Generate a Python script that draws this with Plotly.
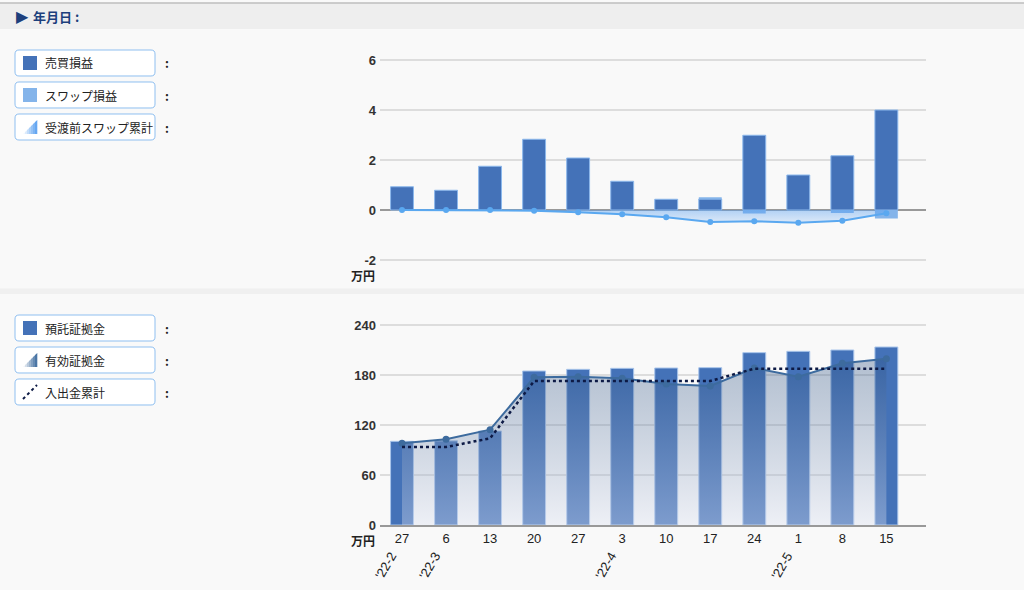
import plotly.graph_objects as go

W, H = 1024, 590

# ---------------- data ----------------
dates = ['2022-02-27', '2022-03-06', '2022-03-13', '2022-03-20', '2022-03-27', '2022-04-03',
         '2022-04-10', '2022-04-17', '2022-04-24', '2022-05-01', '2022-05-08', '2022-05-15']
day_labels = ['27', '6', '13', '20', '27', '3', '10', '17', '24', '1', '8', '15']
month_label_idx = [0, 1, 5, 9]
month_label_text = ["'22-2", "'22-3", "'22-4", "'22-5"]

trade_pl = [0.93, 0.79, 1.75, 2.83, 2.08, 1.15, 0.43, 0.44, 2.99, 1.40, 2.17, 4.00]
swap_pl = [0.0, 0.0, 0.0, 0.0, 0.0, 0.0, 0.0, 0.07, -0.14, 0.0, -0.12, -0.34]
swap_cum = [0.0, 0.0, 0.0, -0.03, -0.09, -0.17, -0.29, -0.48, -0.45, -0.51, -0.43, -0.13]

deposit = [100.4, 101.0, 112.8, 184.8, 186.8, 188.0, 188.4, 188.8, 206.8, 208.4, 210.0, 213.6]
effective = [98.0, 102.8, 114.4, 177.2, 178.0, 176.0, 169.2, 166.8, 188.4, 178.0, 194.0, 199.6]
cash_flow = [93.6, 93.6, 104.0, 172.8, 172.8, 172.8, 172.8, 172.8, 187.6, 187.6, 187.6, 187.6]

top_ticks = [-2, 0, 2, 4, 6]
top_tick_text = ['-2', '0', '2', '4', '6']
bot_ticks = [0, 60, 120, 180, 240]
bot_tick_text = ['0', '60', '120', '180', '240']

legend_top = ['売買損益', 'スワップ損益', '受渡前スワップ累計']
legend_bot = ['預託証拠金', '有効証拠金', '入出金累計']

# ---------------- styles ----------------
C_BAR = '#4472b8'
C_SWAP = '#84b4ea'
C_SWAPLINE = '#5aa8f0'
C_EFF = '#3d6b9e'
C_CASH = '#0d1a45'
JP = 'Noto Sans CJK JP'
NUM = 'Liberation Sans'


def fx(p):
    return p / W


def fy(p):
    return 1 - p / H


# top chart: -2 -> 260px, 6 -> 60px (25 px per unit); range padded so edge grid lines show
TOP_R = [-2.06, 6.06]
YD_TOP = [fy(260 + 0.06 * 25), fy(60 - 0.06 * 25)]
# bottom chart: 0 -> 525px, 240 -> 325px
BOT_R = [0, 241.5]
YD_BOT = [fy(525), fy(525 - 241.5 * 200 / 240)]
XD = [fx(380), fx(926)]
XR = [-0.5, 11.9]

fig = go.Figure()

# top chart
fig.add_trace(go.Bar(x=dates, y=trade_pl, marker=dict(color=C_BAR, line=dict(color='#8cb8ec', width=1)),
                     xaxis='x', yaxis='y', name=legend_top[0]))
fig.add_trace(go.Bar(x=dates, y=swap_pl, marker=dict(color=C_SWAP, line=dict(width=0)),
                     xaxis='x', yaxis='y', name=legend_top[1]))
fig.add_trace(go.Scatter(x=dates, y=swap_cum, mode='lines+markers', xaxis='x', yaxis='y',
                         line=dict(color=C_SWAPLINE, width=2), marker=dict(size=6, color=C_SWAPLINE),
                         fill='tozeroy',
                         fillgradient=dict(type='vertical',
                                           colorscale=[[0, 'rgba(90,160,240,0.18)'],
                                                       [1, 'rgba(90,160,240,0.45)']]),
                         name=legend_top[2]))

# bottom chart
fig.add_trace(go.Bar(x=dates, y=deposit, marker=dict(color=C_BAR, line=dict(color='#a8c4ea', width=1)),
                     xaxis='x2', yaxis='y2', name=legend_bot[0]))
fig.add_trace(go.Scatter(x=dates, y=effective, mode='lines+markers', xaxis='x2', yaxis='y2',
                         line=dict(color=C_EFF, width=2), marker=dict(size=7, color=C_EFF),
                         fill='tozeroy',
                         fillgradient=dict(type='vertical',
                                           colorscale=[[0, 'rgba(218,224,240,0.38)'],
                                                       [1, 'rgba(40,78,128,0.34)']]),
                         name=legend_bot[1]))
fig.add_trace(go.Scatter(x=dates, y=cash_flow, mode='lines', xaxis='x2', yaxis='y2',
                         line=dict(color=C_CASH, width=2.5, dash='dot'), name=legend_bot[2]))

numfont = dict(family=NUM, size=13, color='#333333', weight='bold')

fig.update_layout(
    width=W, height=H, margin=dict(l=0, r=0, t=0, b=0, pad=0, autoexpand=False), autosize=False,
    paper_bgcolor='#f9f9f9', plot_bgcolor='rgba(0,0,0,0)',
    showlegend=False, barmode='relative', bargap=0.48,
    xaxis=dict(domain=XD, anchor='y', type='category', range=XR, showticklabels=False,
               showgrid=False, zeroline=False, showline=False, ticks='', automargin=False),
    yaxis=dict(domain=YD_TOP, anchor='x', range=TOP_R, tickvals=top_ticks, ticktext=top_tick_text,
               gridcolor='#dddddd', gridwidth=1.5, zeroline=True, zerolinecolor='#999999',
               zerolinewidth=2, tickfont=numfont, ticks='', ticklabelstandoff=3, automargin=False),
    yaxis3=dict(overlaying='y', side='right', anchor='x', range=TOP_R, tickvals=top_ticks,
                ticktext=top_tick_text, showgrid=False, zeroline=False, tickfont=numfont, ticks='',
                ticklabelstandoff=3, automargin=False),
    xaxis2=dict(domain=XD, anchor='y2', type='category', range=XR, tickvals=dates, ticktext=day_labels,
                showgrid=False, zeroline=False, showline=True, linecolor='#999999', linewidth=2,
                ticks='', tickfont=dict(family=NUM, size=13, color='#222222'), tickangle=0, automargin=False),
    yaxis2=dict(domain=YD_BOT, anchor='x2', range=BOT_R, tickvals=bot_ticks, ticktext=bot_tick_text,
                gridcolor='#dddddd', gridwidth=1.5, zeroline=False, tickfont=numfont, ticks='',
                ticklabelstandoff=3, automargin=False),
    yaxis4=dict(overlaying='y2', side='right', anchor='x2', range=BOT_R, tickvals=bot_ticks,
                ticktext=bot_tick_text, showgrid=False, zeroline=False, tickfont=numfont, ticks='',
                ticklabelstandoff=3, automargin=False),
)

shapes = []
annots = []

# header band
shapes.append(dict(type='rect', xref='paper', yref='paper', x0=0, x1=1, y0=fy(29), y1=fy(3.5),
                   fillcolor='#eeeeee', line=dict(width=0), layer='below'))
shapes.append(dict(type='line', xref='paper', yref='paper', x0=0, x1=1, y0=fy(3), y1=fy(3),
                   line=dict(color='#bdbdbd', width=1.5), layer='below'))
# separator band
shapes.append(dict(type='rect', xref='paper', yref='paper', x0=0, x1=1, y0=fy(294), y1=fy(288.5),
                   fillcolor='#f0f0f0', line=dict(width=0), layer='below'))

annots.append(dict(xref='paper', yref='paper', x=fx(14), y=fy(16.5), xanchor='left', yanchor='middle',
                   text='▶', showarrow=False, font=dict(family='DejaVu Sans', size=16, color='#1d3f7c')))
annots.append(dict(xref='paper', yref='paper', x=fx(31), y=fy(16.5), xanchor='left', yanchor='middle',
                   text='年月日 :', showarrow=False, font=dict(family=JP, size=13, color='#1d3f7c', weight='bold')))


def rrect(x0, y0, x1, y1, r):
    pts = [
        ('M', x0 + r, y0), ('L', x1 - r, y0), ('Q', x1, y0, x1, y0 + r), ('L', x1, y1 - r),
        ('Q', x1, y1, x1 - r, y1), ('L', x0 + r, y1), ('Q', x0, y1, x0, y1 - r), ('L', x0, y0 + r),
        ('Q', x0, y0, x0 + r, y0)
    ]
    s = ''
    for p in pts:
        cmd = p[0]
        coords = p[1:]
        parts = []
        for i in range(0, len(coords), 2):
            parts.append(f'{fx(coords[i]):.5f},{fy(coords[i + 1]):.5f}')
        s += cmd + ' ' + ' '.join(parts) + ' '
    return s + 'Z'


def poly(points):
    return 'M ' + ' L '.join(f'{fx(a):.5f},{fy(b):.5f}' for a, b in points) + ' Z'


def mix(c1, c2, t):
    return 'rgb(%d,%d,%d)' % tuple(round(c1[i] + (c2[i] - c1[i]) * t) for i in range(3))


def grad_triangle(yt, target):
    x0, x1 = 23, 37
    yb = yt + 14
    n = 7
    for i in range(n):
        xa = x0 + (x1 - x0) * i / n
        xb = x0 + (x1 - x0) * (i + 1) / n
        col = mix((255, 255, 255), target, (i + 0.5) / n)
        shapes.append(dict(type='path', xref='paper', yref='paper',
                           path=poly([(xa, yb), (xb + 0.3, yb), (xb + 0.3, yb - (xb - x0)), (xa, yb - (xa - x0))]),
                           fillcolor=col, line=dict(width=0)))


def legend_box(ytop, label, icon):
    shapes.append(dict(type='path', xref='paper', yref='paper', path=rrect(15, ytop, 155, ytop + 26, 4),
                       fillcolor='#ffffff', line=dict(color='#8fbff0', width=1)))
    yc = ytop + 13
    if icon[0] == 'square':
        shapes.append(dict(type='rect', xref='paper', yref='paper', x0=fx(23), x1=fx(37), y0=fy(yc + 7), y1=fy(yc - 7),
                           fillcolor=icon[1], line=dict(width=0)))
    elif icon[0] == 'tri':
        grad_triangle(yc - 7, icon[1])
    elif icon[0] == 'dots':
        shapes.append(dict(type='line', xref='paper', yref='paper', x0=fx(23), x1=fx(37), y0=fy(yc + 7), y1=fy(yc - 7),
                           line=dict(color=C_CASH, width=2, dash='dot')))
    annots.append(dict(xref='paper', yref='paper', x=fx(43), y=fy(yc), xanchor='left', yanchor='middle',
                       text=label, showarrow=False, font=dict(family=JP, size=12, color='#222222')))
    annots.append(dict(xref='paper', yref='paper', x=fx(163), y=fy(yc), xanchor='left', yanchor='middle',
                       text=':', showarrow=False, font=dict(family=JP, size=12, color='#222222', weight='bold')))


legend_box(50, legend_top[0], ('square', C_BAR))
legend_box(82, legend_top[1], ('square', C_SWAP))
legend_box(114, legend_top[2], ('tri', (90, 160, 240)))
legend_box(315, legend_bot[0], ('square', C_BAR))
legend_box(347, legend_bot[1], ('tri', (61, 107, 158)))
legend_box(379, legend_bot[2], ('dots', None))

# units
annots.append(dict(xref='paper', yref='paper', x=fx(377), y=fy(275), xanchor='right', yanchor='middle',
                   text='万円', showarrow=False, font=dict(family=JP, size=12, color='#222222', weight='bold')))
annots.append(dict(xref='paper', yref='paper', x=fx(377), y=fy(540), xanchor='right', yanchor='middle',
                   text='万円', showarrow=False, font=dict(family=JP, size=12, color='#222222', weight='bold')))

# month labels (rotated)
for i, t in zip(month_label_idx, month_label_text):
    annots.append(dict(xref='x2', yref='paper', x=dates[i], y=fy(546), xanchor='right', yanchor='top',
                       xshift=0, text=t, textangle=-60, showarrow=False,
                       font=dict(family=NUM, size=13, color='#222222')))

fig.update_layout(shapes=shapes, annotations=annots)
fig.write_html('out.html', config={'displayModeBar': False},
               post_script="document.body.style.margin='0';document.body.style.overflow='hidden';"
                           "var d=document.getElementById('{plot_id}');d.style.position='absolute';"
                           "d.style.left='0px';d.style.top='0px';")
